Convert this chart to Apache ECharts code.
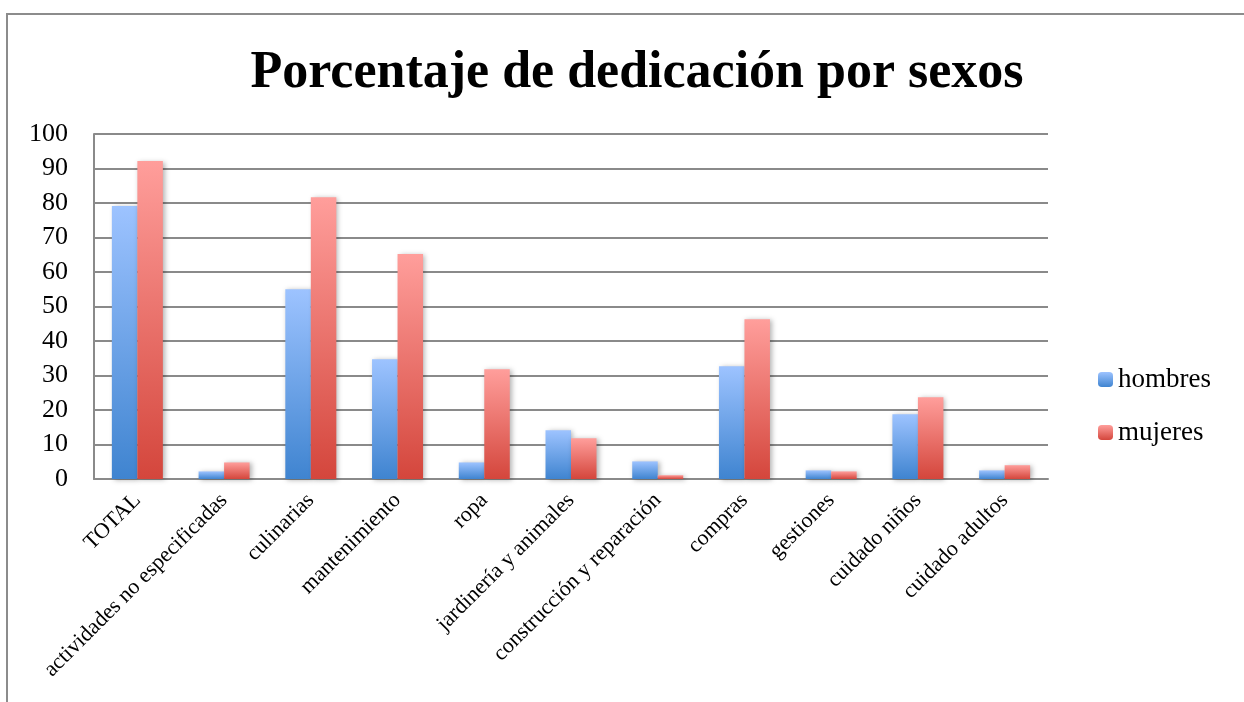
<!DOCTYPE html>
<html>
<head>
<meta charset="utf-8">
<script src="https://cdn.jsdelivr.net/npm/echarts@6/dist/echarts.min.js"></script>
<style>
html,body{margin:0;padding:0;background:#fff;}
#chart{width:1244px;height:702px;}
</style>
</head>
<body>
<div id="chart"></div>
<script>
const categories = ["TOTAL","actividades no especificadas","culinarias","mantenimiento","ropa","jardinería y animales","construcción y reparación","compras","gestiones","cuidado niños","cuidado adultos"];
const hombres = [79.1, 2.2, 55.0, 34.7, 4.8, 14.1, 5.1, 32.7, 2.5, 18.8, 2.5];
const mujeres = [92.2, 4.8, 81.7, 65.2, 31.8, 11.8, 1.1, 46.3, 2.2, 23.7, 4.0];
const yTicks = [0,10,20,30,40,50,60,70,80,90,100];

const serif = '"Liberation Serif","DejaVu Serif",serif';
function grad(top, bottom){
  return new echarts.graphic.LinearGradient(0,0,0,1,[{offset:0,color:top},{offset:1,color:bottom}]);
}
const chart = echarts.init(document.getElementById('chart'));
chart.setOption({
  animation:false,
  title:{
    text:'Porcentaje de dedicación por sexos',
    left:632, top:43, textAlign:'center',
    textStyle:{fontFamily:serif,fontWeight:'bold',fontSize:52,color:'#000'}
  },
  graphic:[{type:'rect',z:-1,silent:true,shape:{x:7,y:14,width:1400,height:900},style:{fill:'none',stroke:'#8c8c8c',lineWidth:2}}],
  legend:{
    orient:'vertical', left:1098, top:366, padding:0, itemWidth:15, itemHeight:15, itemGap:26,
    textStyle:{fontFamily:serif,fontSize:27,color:'#000'},
    data:['hombres','mujeres']
  },
  grid:{left:94,right:196,top:134,bottom:223,containLabel:false},
  xAxis:{
    type:'category', data:categories,
    axisLine:{lineStyle:{color:'#8a8a8a',width:2}},
    axisTick:{show:false},
    axisLabel:{rotate:45,interval:0,margin:18,fontFamily:serif,fontSize:22,color:'#000'}
  },
  yAxis:{
    type:'value', min:yTicks[0], max:yTicks[yTicks.length-1], interval:10,
    axisLine:{show:true,lineStyle:{color:'#8a8a8a',width:2}},
    axisTick:{show:false},
    splitLine:{lineStyle:{color:'#8a8a8a',width:2}},
    axisLabel:{margin:26,fontFamily:serif,fontSize:26,color:'#000'}
  },
  series:[
    {name:'hombres',type:'bar',data:hombres,barWidth:25.5,barGap:'0%',
     itemStyle:{color:grad('#9dc3ff','#3f84d0'),shadowBlur:5,shadowColor:'rgba(0,0,0,0.3)',shadowOffsetX:2,shadowOffsetY:1}},
    {name:'mujeres',type:'bar',data:mujeres,barWidth:25.5,barGap:'0%',
     itemStyle:{color:grad('#ff9e9b','#d4463c'),shadowBlur:5,shadowColor:'rgba(0,0,0,0.3)',shadowOffsetX:2,shadowOffsetY:1}}
  ]
});
</script>
</body>
</html>
